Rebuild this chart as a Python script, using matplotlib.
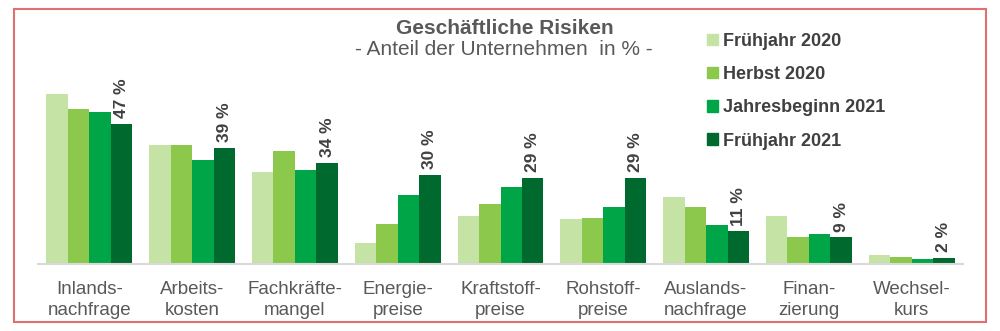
import numpy as np
import matplotlib.pyplot as plt
from matplotlib.patches import Rectangle, Patch

plt.rcParams['font.family'] = ['Liberation Sans', 'DejaVu Sans']

categories = ["Inlands-\nnachfrage", "Arbeits-\nkosten", "Fachkräfte-\nmangel",
              "Energie-\npreise", "Kraftstoff-\npreise", "Rohstoff-\npreise",
              "Auslands-\nnachfrage", "Finan-\nzierung", "Wechsel-\nkurs"]
series = ["Frühjahr 2020", "Herbst 2020", "Jahresbeginn 2021", "Frühjahr 2021"]
fruehjahr_2020 = [57, 40, 31, 7, 16, 15, 22.5, 16, 3]
herbst_2020 = [52, 40, 38, 13.5, 20, 15.5, 19, 9, 2.2]
jahresbeginn_2021 = [51, 35, 31.5, 23, 26, 19, 13, 10, 1.6]
fruehjahr_2021 = [47, 39, 34, 30, 29, 29, 11, 9, 2]
values = [fruehjahr_2020, herbst_2020, jahresbeginn_2021, fruehjahr_2021]
colors = ["#c5e3a4", "#8cc84b", "#00a548", "#006a2e"]

fig = plt.figure(figsize=(10, 3.31), dpi=100)
ax = fig.add_axes([0.038, 0.2024, 0.925, 0.7676])

x = np.arange(len(categories))
w = 0.209
for i, (vals, c) in enumerate(zip(values, colors)):
    ax.bar(x + (i - 1.5) * w, vals, width=w, color=c, label=series[i])

for xi, v in zip(x, fruehjahr_2021):
    ax.annotate(f"{v:g} %", (xi + 1.5 * w, v), xytext=(0, 4), textcoords="offset points",
                rotation=90, ha="center", va="bottom", fontsize=12.5,
                fontweight="bold", color="#404040")

ax.set_xlim(-0.5, len(categories) - 0.5)
ax.set_ylim(0, 85.3)
ax.set_yticks([])
ax.set_xticks(x)
ax.set_xticklabels(categories, fontsize=13.5, color="#595959", linespacing=1.3)
ax.tick_params(axis="x", length=0, pad=12)
for s in ["top", "right", "left"]:
    ax.spines[s].set_visible(False)
ax.spines["bottom"].set_color("#d9d9d9")
ax.spines["bottom"].set_linewidth(1.5)
ax.patch.set_alpha(0)

fig.text(0.505, 0.915, "Geschäftliche Risiken", ha="center", va="center",
         fontsize=15, fontweight="bold", color="#595959")
fig.text(0.504, 0.85, "- Anteil der Unternehmen  in % -", ha="center", va="center",
         fontsize=15, color="#595959")

handles = [Patch(color=c) for c in colors]
leg = fig.legend(handles, series, loc="upper left", bbox_to_anchor=(0.691, 0.95),
                 frameon=False, handlelength=0.6, handleheight=0.6, handletextpad=0.25,
                 labelspacing=0.9, prop={"size": 13, "weight": "bold"})
for t in leg.get_texts():
    t.set_color("#404040")

fig.patches.append(Rectangle((0.014, 0.027), 0.972, 0.945, transform=fig.transFigure,
                             fill=False, edgecolor="#e07070", linewidth=1.5))

fig.savefig("out.png", dpi=100)
